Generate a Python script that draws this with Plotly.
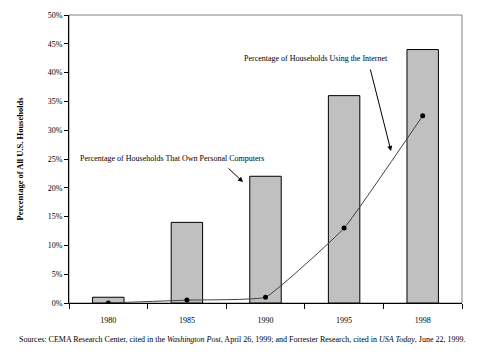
import plotly.graph_objects as go

years = ["1980", "1985", "1990", "1995", "1998"]
pc_pct = [1, 14, 22, 36, 44]
internet_pct = [0, 0.5, 1, 13, 32.5]
y_ticks = [0, 5, 10, 15, 20, 25, 30, 35, 40, 45, 50]
y_tick_labels = [f"{v}%" for v in y_ticks]

FONT = "Liberation Serif"

fig = go.Figure()
fig.add_trace(go.Bar(
    x=years, y=pc_pct,
    marker=dict(color="#c0c0c0", line=dict(color="black", width=1)),
    showlegend=False,
))
fig.add_trace(go.Scatter(
    x=years, y=internet_pct, mode="lines+markers",
    line=dict(color="#404040", width=1, shape="spline", smoothing=0.3),
    marker=dict(color="black", size=5),
    showlegend=False,
))

# page body has an 8px margin; figure sized so it fits the 488x356 window
OFF = 8
W, H = 472, 340
L, T = 69 - OFF, 15 - OFF
R = W - (462 - OFF)
B = H - (303 - OFF)
PW, PH = 393, 288

fig.update_layout(
    width=W, height=H,
    margin=dict(l=L, r=R, t=T, b=B, autoexpand=False),
    paper_bgcolor="white", plot_bgcolor="white",
    bargap=0.6,
    font=dict(family=FONT, size=8, color="black"),
    xaxis=dict(
        type="category", showgrid=False, showline=True, linecolor="black", linewidth=1,
        ticks="outside", ticklen=5, tickcolor="black", tickson="boundaries",
        ticklabelstandoff=9, tickfont=dict(family=FONT, size=8),
        zeroline=False,
    ),
    yaxis=dict(
        range=[0, 50], tickvals=y_ticks, ticktext=y_tick_labels,
        showgrid=False, showline=True, linecolor="black", linewidth=1,
        ticks="outside", ticklen=4, tickcolor="black", zeroline=False,
        tickfont=dict(family=FONT, size=8),
        title=dict(text="<b>Percentage of All U.S. Households</b>",
                   font=dict(family=FONT, size=8.5), standoff=22),
    ),
    shapes=[dict(type="rect", xref="paper", yref="paper", x0=0, x1=1, y0=0, y1=1,
                 line=dict(color="#808080", width=1), layer="below")],
)

def label(text, px, py):
    return dict(text=text, xref="paper", yref="paper",
                x=(px - 69) / PW, y=(303 - py) / PH,
                xanchor="center", yanchor="middle", showarrow=False,
                font=dict(family=FONT, size=8))

def arrow(hx, hy, ax, ay):
    return dict(text="", xref="paper", yref="paper",
                x=(hx - 69) / PW, y=(303 - hy) / PH,
                ax=ax, ay=ay, showarrow=True, arrowhead=2, arrowsize=1,
                arrowwidth=1, arrowcolor="black")

annotations = [
    label("Percentage of Households Using the Internet", 316, 58),
    arrow(391, 151, -21, -83),
    label("Percentage of Households That Own Personal Computers", 172, 158),
    arrow(243, 182, -16, -15),
    label("Sources: CEMA Research Center, cited in the <i>Washington Post</i>, April 26, 1999; "
          "and Forrester Research, cited in <i>USA Today</i>, June 22, 1999.", 242, 339),
]
fig.update_layout(annotations=annotations)

fig.write_html("out.html")
